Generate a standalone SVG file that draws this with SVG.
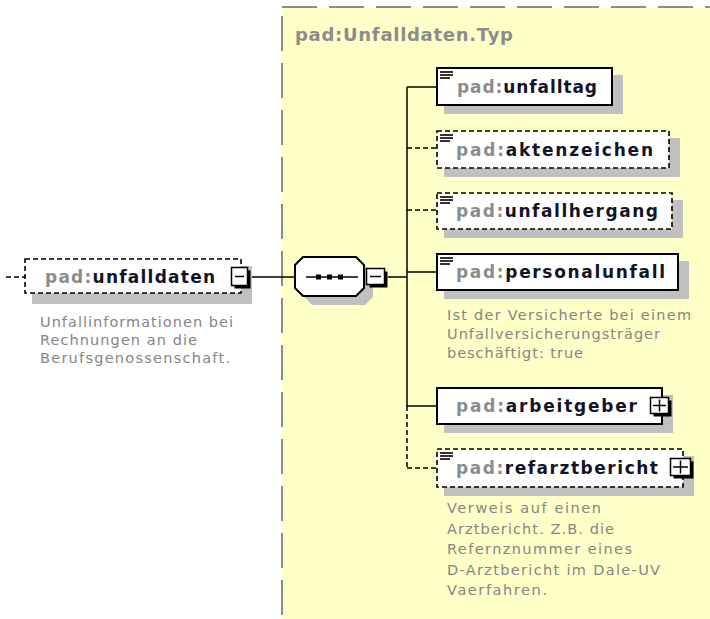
<svg xmlns="http://www.w3.org/2000/svg" width="710" height="619" viewBox="0 0 710 619">
<style>
.bg{fill:#ffffc8}
.frame{stroke:#8c8c8c;stroke-width:2;stroke-dasharray:35 12;fill:none}
.sh{fill:#c0c0c0}
.box{fill:#fff;stroke:#000;stroke-width:2}
.opt{fill:#fff;stroke:#000;stroke-width:1.6;stroke-dasharray:5 3}
.lbl{font-family:"DejaVu Sans",Verdana,sans-serif;font-size:17px;font-weight:bold}
.pre{fill:#8c8c8c}
.nm{fill:#141428}
.title{font-family:"DejaVu Sans",Verdana,sans-serif;font-size:18px;font-weight:bold;fill:#8c8c8c}
.desc{font-family:"DejaVu Sans",Verdana,sans-serif;font-size:14.5px;fill:#858585}
.c{stroke:#000;stroke-width:1.5;fill:none}
.cd{stroke:#000;stroke-width:1.5;fill:none;stroke-dasharray:5 3}
.bsh{fill:#000}
.btn{fill:#fff;stroke:#000;stroke-width:1.5}
.ico{stroke:#000;stroke-width:1.6}
</style>
<rect x="0" y="0" width="710" height="619" fill="#fff"/>
<g id="type-box">
<rect class="bg" x="282" y="7" width="428" height="612"/>
<line class="frame" x1="282" y1="7" x2="710" y2="7"/>
<line class="frame" x1="282" y1="16" x2="282" y2="619"/>
<text class="title" x="295" y="41" textLength="218" lengthAdjust="spacing">pad:Unfalldaten.Typ</text>
</g>
<g id="connectors">
<line class="cd" x1="6" y1="277" x2="25" y2="277"/>
<line class="c" x1="250" y1="277" x2="295" y2="277"/>
<line class="c" x1="388" y1="277" x2="407" y2="277"/>
<line class="c" x1="407" y1="87" x2="407" y2="406"/>
<line class="cd" x1="407" y1="406" x2="407" y2="468"/>
<line class="c" x1="407" y1="87" x2="437" y2="87"/>
<line class="cd" x1="407" y1="148" x2="437" y2="148"/>
<line class="cd" x1="407" y1="210" x2="437" y2="210"/>
<line class="c" x1="407" y1="272" x2="437" y2="272"/>
<line class="c" x1="407" y1="406" x2="437" y2="406"/>
<line class="cd" x1="407" y1="468" x2="437" y2="468"/>
</g>
<g id="node-unfalldaten">
<rect class="sh" x="32" y="266" width="220" height="38"/>
<rect class="opt" x="25" y="259" width="216" height="34"/>
<text class="lbl" x="45" y="283" textLength="170" lengthAdjust="spacing"><tspan class="pre">pad:</tspan><tspan class="nm">unfalldaten</tspan></text>
<rect class="bsh" x="234.5" y="270.5" width="16" height="18"/>
<rect class="btn" x="231.5" y="267.5" width="16" height="18"/>
<line class="c" x1="235" y1="276.5" x2="244" y2="276.5"/>
<text class="desc" x="40" y="327" textLength="193" lengthAdjust="spacing">Unfallinformationen bei</text>
<text class="desc" x="40" y="345" textLength="157" lengthAdjust="spacing">Rechnungen an die</text>
<text class="desc" x="40" y="363" textLength="190" lengthAdjust="spacing">Berufsgenossenschaft.</text>
</g>
<g id="node-sequence">
<polygon class="sh" points="312,266 365,266 373,274 373,297 365,305 312,305 304,297 304,274"/>
<polygon class="box" points="303,257 356,257 364,265 364,288 356,296 303,296 295,288 295,265"/>
<line class="c" x1="306" y1="277" x2="358" y2="277"/>
<rect x="316" y="274.5" width="5" height="5" fill="#000"/>
<rect x="327" y="274.5" width="5" height="5" fill="#000"/>
<rect x="338" y="274.5" width="5" height="5" fill="#000"/>
<rect class="bsh" x="369.5" y="271.5" width="18" height="16"/>
<rect class="btn" x="366.5" y="268.5" width="18" height="16"/>
<line class="c" x1="370" y1="276.5" x2="381" y2="276.5"/>
</g>
<g id="node-unfalltag">
<rect class="sh" x="444" y="75" width="179" height="39"/>
<rect class="box" x="437" y="68" width="175" height="37"/>
<line class="ico" x1="440" y1="72" x2="453" y2="72"/><line class="ico" x1="440" y1="75" x2="453" y2="75"/><line class="ico" x1="440" y1="78" x2="450" y2="78"/>
<text class="lbl" x="457" y="93" textLength="140" lengthAdjust="spacing"><tspan class="pre">pad:</tspan><tspan class="nm">unfalltag</tspan></text>
</g>
<g id="node-aktenzeichen">
<rect class="sh" x="444" y="138" width="236" height="39"/>
<rect class="opt" x="437" y="131" width="232" height="37"/>
<line class="ico" x1="440" y1="135" x2="453" y2="135"/><line class="ico" x1="440" y1="138" x2="453" y2="138"/><line class="ico" x1="440" y1="141" x2="450" y2="141"/>
<text class="lbl" x="456" y="156" textLength="197" lengthAdjust="spacing"><tspan class="pre">pad:</tspan><tspan class="nm">aktenzeichen</tspan></text>
</g>
<g id="node-unfallhergang">
<rect class="sh" x="444" y="200" width="239" height="38"/>
<rect class="opt" x="437" y="193" width="235" height="36"/>
<line class="ico" x1="440" y1="197" x2="453" y2="197"/><line class="ico" x1="440" y1="200" x2="453" y2="200"/><line class="ico" x1="440" y1="203" x2="450" y2="203"/>
<text class="lbl" x="456" y="217" textLength="202" lengthAdjust="spacing"><tspan class="pre">pad:</tspan><tspan class="nm">unfallhergang</tspan></text>
</g>
<g id="node-personalunfall">
<rect class="sh" x="444" y="261" width="245" height="38"/>
<rect class="box" x="437" y="254" width="241" height="36"/>
<line class="ico" x1="440" y1="258" x2="453" y2="258"/><line class="ico" x1="440" y1="261" x2="453" y2="261"/><line class="ico" x1="440" y1="264" x2="450" y2="264"/>
<text class="lbl" x="456" y="278" textLength="209" lengthAdjust="spacing"><tspan class="pre">pad:</tspan><tspan class="nm">personalunfall</tspan></text>
<text class="desc" x="447" y="320" textLength="244" lengthAdjust="spacing">Ist der Versicherte bei einem</text>
<text class="desc" x="447" y="339" textLength="213" lengthAdjust="spacing">Unfallversicherungsträger</text>
<text class="desc" x="447" y="358" textLength="136" lengthAdjust="spacing">beschäftigt: true</text>
</g>
<g id="node-arbeitgeber">
<rect class="sh" x="444" y="395" width="229" height="38"/>
<rect class="box" x="437" y="388" width="225" height="36"/>
<text class="lbl" x="456" y="412" textLength="181" lengthAdjust="spacing"><tspan class="pre">pad:</tspan><tspan class="nm">arbeitgeber</tspan></text>
<rect class="bsh" x="653.5" y="400.5" width="18" height="16"/>
<rect class="btn" x="650.5" y="397.5" width="18" height="16"/>
<line class="c" x1="653" y1="405.5" x2="666" y2="405.5"/>
<line class="c" x1="659.5" y1="399.5" x2="659.5" y2="411.5"/>
</g>
<g id="node-refarztbericht">
<rect class="sh" x="444" y="456" width="250" height="40"/>
<rect class="opt" x="437" y="449" width="246" height="38"/>
<line class="ico" x1="440" y1="453" x2="453" y2="453"/><line class="ico" x1="440" y1="456" x2="453" y2="456"/><line class="ico" x1="440" y1="459" x2="450" y2="459"/>
<text class="lbl" x="456" y="474" textLength="202" lengthAdjust="spacing"><tspan class="pre">pad:</tspan><tspan class="nm">refarztbericht</tspan></text>
<rect class="bsh" x="673.5" y="461.5" width="20" height="17"/>
<rect class="btn" x="670.5" y="458.5" width="20" height="17"/>
<line class="c" x1="673" y1="467" x2="688" y2="467"/>
<line class="c" x1="680.5" y1="460.5" x2="680.5" y2="473.5"/>
<text class="desc" x="447" y="513" textLength="154" lengthAdjust="spacing">Verweis auf einen</text>
<text class="desc" x="447" y="533.5" textLength="167" lengthAdjust="spacing">Arztbericht. Z.B. die</text>
<text class="desc" x="447" y="554" textLength="185" lengthAdjust="spacing">Refernznummer eines</text>
<text class="desc" x="447" y="574.5" textLength="213" lengthAdjust="spacing">D-Arztbericht im Dale-UV</text>
<text class="desc" x="447" y="595" textLength="100" lengthAdjust="spacing">Vaerfahren.</text>
</g>
</svg>
